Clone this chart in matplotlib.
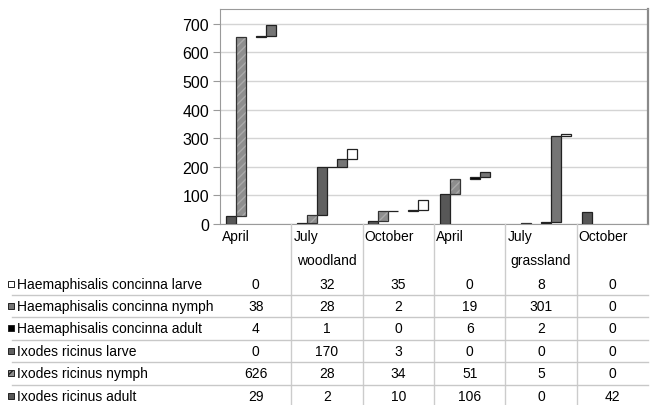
import matplotlib
matplotlib.use("Agg")
import matplotlib.pyplot as plt
import numpy as np

plt.rcParams['font.family'] = ['Liberation Sans', 'DejaVu Sans']

months = ["April", "July", "October", "April", "July", "October"]
habitats = ["woodland", "grassland"]

# table order, top to bottom
names = ["Haemaphisalis concinna larve", "Haemaphisalis concinna nymph",
         "Haemaphisalis concinna adult", "Ixodes ricinus larve",
         "Ixodes ricinus nymph", "Ixodes ricinus adult"]
hc_larve = [0, 32, 35, 0, 8, 0]
hc_nymph = [38, 28, 2, 19, 301, 0]
hc_adult = [4, 1, 0, 6, 2, 0]
ir_larve = [0, 170, 3, 0, 0, 0]
ir_nymph = [626, 28, 34, 51, 5, 0]
ir_adult = [29, 2, 10, 106, 0, 42]

table_rows = [hc_larve, hc_nymph, hc_adult, ir_larve, ir_nymph, ir_adult]
colors = ["white", "#757575", "black", "#616161", "#8e8e8e", "#575757"]

W, H = 650, 406
fig = plt.figure(figsize=(6.5, 4.06), dpi=100)
ax_l, ax_r, ax_t, ax_b = 220, 648, 10, 225
ax = fig.add_axes([ax_l / W, 1 - ax_b / H, (ax_r - ax_l) / W, (ax_b - ax_t) / H])

# waterfall: plot order is bottom row of table first
order = list(range(5, -1, -1))
x = np.arange(len(months))
bw = 0.14
base = np.zeros(len(months))
for k, idx in enumerate(order):
    vals = np.array(table_rows[idx], dtype=float)
    pos = x + (k - 2.5) * bw
    lw = np.where(vals > 0, 0.9, 0)
    if names[idx] == "Ixodes ricinus nymph":
        ax.bar(pos, vals, bw, bottom=base, color=colors[idx], hatch="////",
               edgecolor="#aaaaaa", linewidth=0, zorder=3)
        ax.bar(pos, vals, bw, bottom=base, fill=False, edgecolor="#333333",
               linewidth=lw, zorder=4)
    else:
        ax.bar(pos, vals, bw, bottom=base, color=colors[idx],
               edgecolor="#222222", linewidth=lw, zorder=3)
    base = base + vals

ax.set_xlim(-0.5, 5.5)
ax.set_ylim(0, 752)
ax.set_yticks(np.arange(0, 701, 100))
ax.set_xticks([])
ax.tick_params(axis="y", length=5, color="#9a9a9a", labelsize=11.5, pad=3)
ax.grid(axis="y", color="#d4d4d4", linewidth=1, zorder=0)
for s in ["top", "left", "bottom"]:
    ax.spines[s].set_color("#9a9a9a")
ax.spines["right"].set_color("#8a8a8a")
ax.spines["right"].set_linewidth(1.6)

def fx(px):
    return px / W

def fy(py):
    return 1 - py / H

cw = (ax_r - ax_l) / 6.0

# category dividers and labels
for i in range(1, 6):
    xx = ax_l + i * cw
    fig.add_artist(plt.Line2D([fx(xx), fx(xx)], [fy(ax_b), fy(406)],
                              color="#cccccc", linewidth=1))
for i, m in enumerate(months):
    fig.text(fx(ax_l + i * cw + 2), fy(237), m, fontsize=10, ha="left", va="center")
for j, h in enumerate(habitats):
    fig.text(fx(ax_l + (1.5 + 3 * j) * cw), fy(261), h, fontsize=10, ha="center", va="center")

# data table
row_y = [285, 307, 329, 352, 374, 397]
for r, name in enumerate(names):
    y = row_y[r]
    fig.add_artist(plt.Rectangle((fx(8), fy(y + 3)), 6 / W, 6 / H,
                                 facecolor=colors[r], edgecolor="#222222",
                                 linewidth=0.7, hatch="////" if r == 4 else None))
    fig.text(fx(17), fy(y), name, fontsize=10, ha="left", va="center")
    for i, v in enumerate(table_rows[r]):
        fig.text(fx(ax_l + (i + 0.5) * cw), fy(y), str(v), fontsize=10,
                 ha="center", va="center")
    if r < 5:
        ly = (row_y[r] + row_y[r + 1]) / 2
        fig.add_artist(plt.Line2D([fx(12), fx(ax_r)], [fy(ly), fy(ly)],
                                  color="#c8c8c8", linewidth=1))

fig.savefig("out.png", dpi=100)
